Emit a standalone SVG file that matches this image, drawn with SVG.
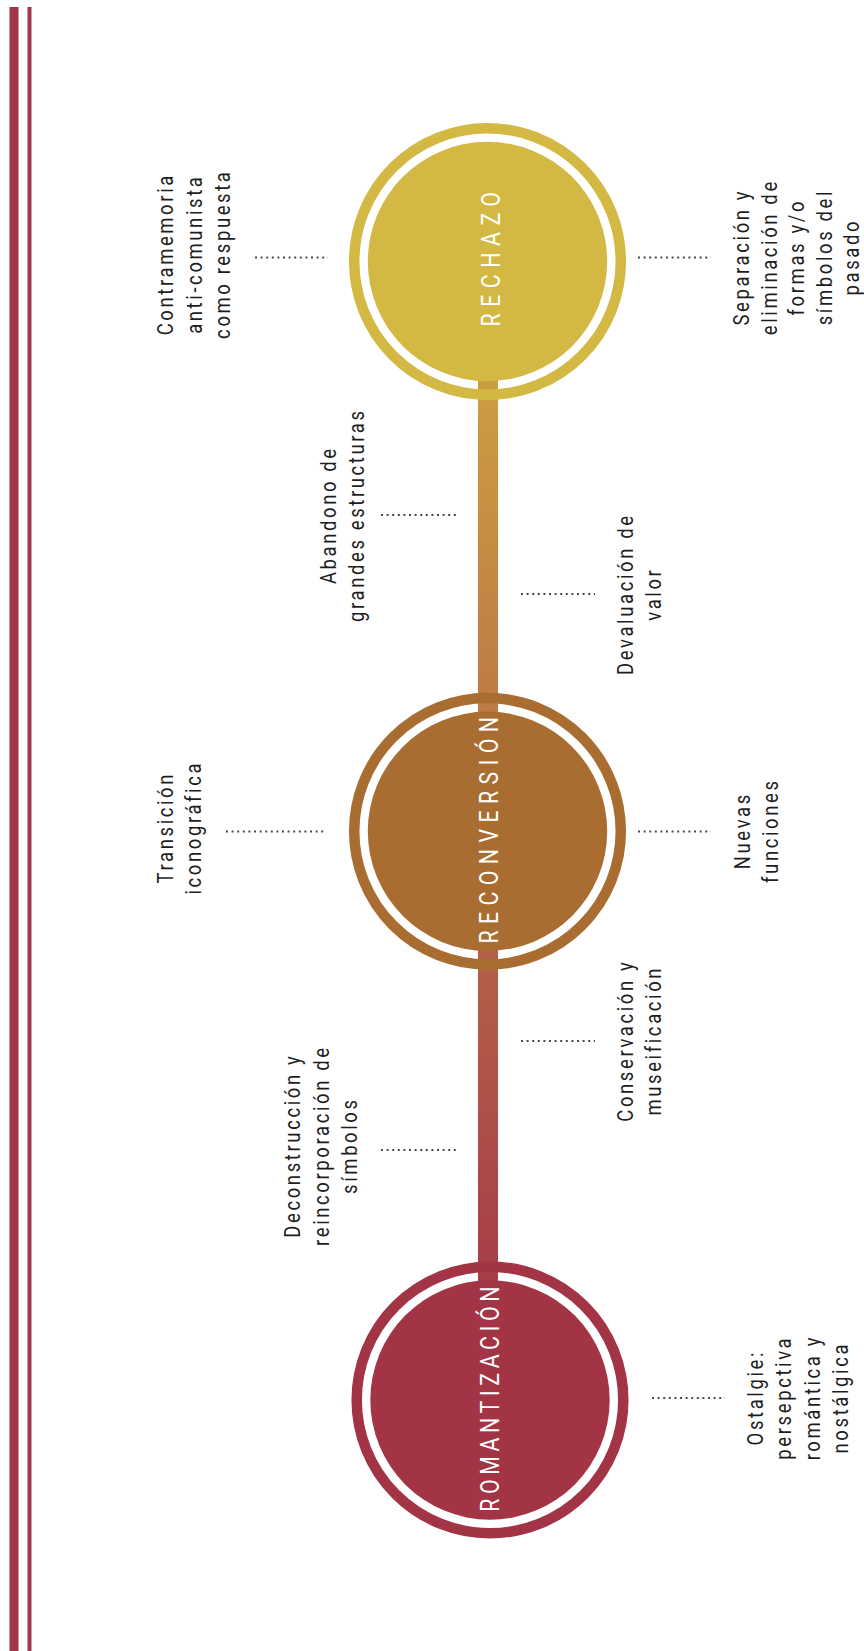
<svg xmlns="http://www.w3.org/2000/svg" width="864" height="1651" viewBox="0 0 864 1651">
<defs>
<linearGradient id="barGrad" gradientUnits="userSpaceOnUse" x1="0" y1="381" x2="0" y2="1280">
<stop offset="0" stop-color="#cc9d42"/>
<stop offset="1" stop-color="#a63e4a"/>
</linearGradient>
<style>
.lbl { font-family: Roboto, "Liberation Sans", sans-serif; font-size: 22.5px; fill: #1e1e1e; letter-spacing: 3.2px; text-anchor: middle; }
.ctext { font-family: Roboto, "Liberation Sans", sans-serif; font-size: 26px; fill: #ffffff; text-anchor: middle; }
.dots { stroke: #4a4a4a; stroke-width: 2; stroke-dasharray: 2 3.6; fill: none; }
.ring { fill: none; stroke-width: 10.5; }
.side { fill: #a3354a; }
</style>
</defs>
<rect width="864" height="1651" fill="#ffffff"/>
<g id="side-bars">
<rect class="side" x="9.5" y="7" width="9" height="1644"/>
<rect class="side" x="27.5" y="7" width="4" height="1644"/>
</g>
<g id="connectors">
<rect x="478" y="300" width="20" height="1050" fill="url(#barGrad)"/>
<line class="dots" x1="255" y1="257.5" x2="328" y2="257.5"/>
<line class="dots" x1="638" y1="257.5" x2="711" y2="257.5"/>
<line class="dots" x1="381" y1="515" x2="456" y2="515"/>
<line class="dots" x1="521" y1="594" x2="595" y2="594"/>
<line class="dots" x1="226" y1="831.5" x2="325" y2="831.5"/>
<line class="dots" x1="638" y1="831.5" x2="711" y2="831.5"/>
<line class="dots" x1="521" y1="1041" x2="595" y2="1041"/>
<line class="dots" x1="381" y1="1150" x2="456" y2="1150"/>
<line class="dots" x1="652" y1="1398" x2="725" y2="1398"/>
</g>
<g id="rechazo">
<circle class="ring" cx="487.5" cy="261.5" r="133.3" stroke="#d4b844"/>
<circle cx="487.5" cy="261.5" r="119.7" fill="#d4b844"/>
<text class="ctext" transform="translate(0,259.2) rotate(-90) scale(0.82,1)" style="letter-spacing:7.9px" x="3.95" y="500.5">RECHAZO</text>
</g>
<g id="reconversion">
<circle class="ring" cx="487.5" cy="831.3" r="133.3" stroke="#a96d31"/>
<circle cx="487.5" cy="831.3" r="119.7" fill="#a96d31"/>
<text class="ctext" transform="translate(0,830.3) rotate(-90) scale(0.82,1)" style="letter-spacing:7.8px" x="3.9" y="498.5">RECONVERSIÓN</text>
</g>
<g id="romantizacion">
<circle class="ring" cx="490" cy="1400" r="133.3" stroke="#a33446"/>
<circle cx="490" cy="1400" r="119.7" fill="#a33446"/>
<text class="ctext" transform="translate(0,1399.2) rotate(-90) scale(0.82,1)" style="letter-spacing:5.6px" x="2.8" y="498.6">ROMANTIZACIÓN</text>
</g>
<g id="label-contramemoria">
<text class="lbl" transform="translate(0,255.5) rotate(-90) scale(0.82,1)"><tspan x="1.6" y="173.3">Contramemoria</tspan><tspan x="1.6" y="201.8">anti-comunista</tspan><tspan x="1.6" y="230.3">como respuesta</tspan></text>
</g>
<g id="label-separacion">
<text class="lbl" transform="translate(0,258.5) rotate(-90) scale(0.82,1)"><tspan x="1.6" y="749.5">Separación y</tspan><tspan x="1.6" y="777">eliminación de</tspan><tspan x="1.6" y="804.5">formas y/o</tspan><tspan x="1.6" y="832">símbolos del</tspan><tspan x="1.6" y="859">pasado</tspan></text>
</g>
<g id="label-abandono">
<text class="lbl" transform="translate(0,516.5) rotate(-90) scale(0.82,1)"><tspan x="1.6" y="336">Abandono de</tspan><tspan x="1.6" y="364.5">grandes estructuras</tspan></text>
</g>
<g id="label-devaluacion">
<text class="lbl" transform="translate(0,595.5) rotate(-90) scale(0.82,1)"><tspan x="1.6" y="633">Devaluación de</tspan><tspan x="1.6" y="661.5">valor</tspan></text>
</g>
<g id="label-transicion">
<text class="lbl" transform="translate(0,829) rotate(-90) scale(0.82,1)"><tspan x="1.6" y="173">Transición</tspan><tspan x="1.6" y="201.5">iconográfica</tspan></text>
</g>
<g id="label-nuevas">
<text class="lbl" transform="translate(0,832) rotate(-90) scale(0.82,1)"><tspan x="1.6" y="750">Nuevas</tspan><tspan x="1.6" y="778.5">funciones</tspan></text>
</g>
<g id="label-conservacion">
<text class="lbl" transform="translate(0,1042) rotate(-90) scale(0.82,1)"><tspan x="1.6" y="633">Conservación y</tspan><tspan x="1.6" y="661.5">museificación</tspan></text>
</g>
<g id="label-deconstruccion">
<text class="lbl" transform="translate(0,1147) rotate(-90) scale(0.82,1)"><tspan x="1.6" y="300.5">Deconstrucción y</tspan><tspan x="1.6" y="329">reincorporación de</tspan><tspan x="1.6" y="357.5">símbolos</tspan></text>
</g>
<g id="label-ostalgie">
<text class="lbl" transform="translate(0,1399) rotate(-90) scale(0.82,1)"><tspan x="1.6" y="763">Ostalgie:</tspan><tspan x="1.6" y="791.5">persepctiva</tspan><tspan x="1.6" y="820">romántica y</tspan><tspan x="1.6" y="848.5">nostálgica</tspan></text>
</g>
</svg>
